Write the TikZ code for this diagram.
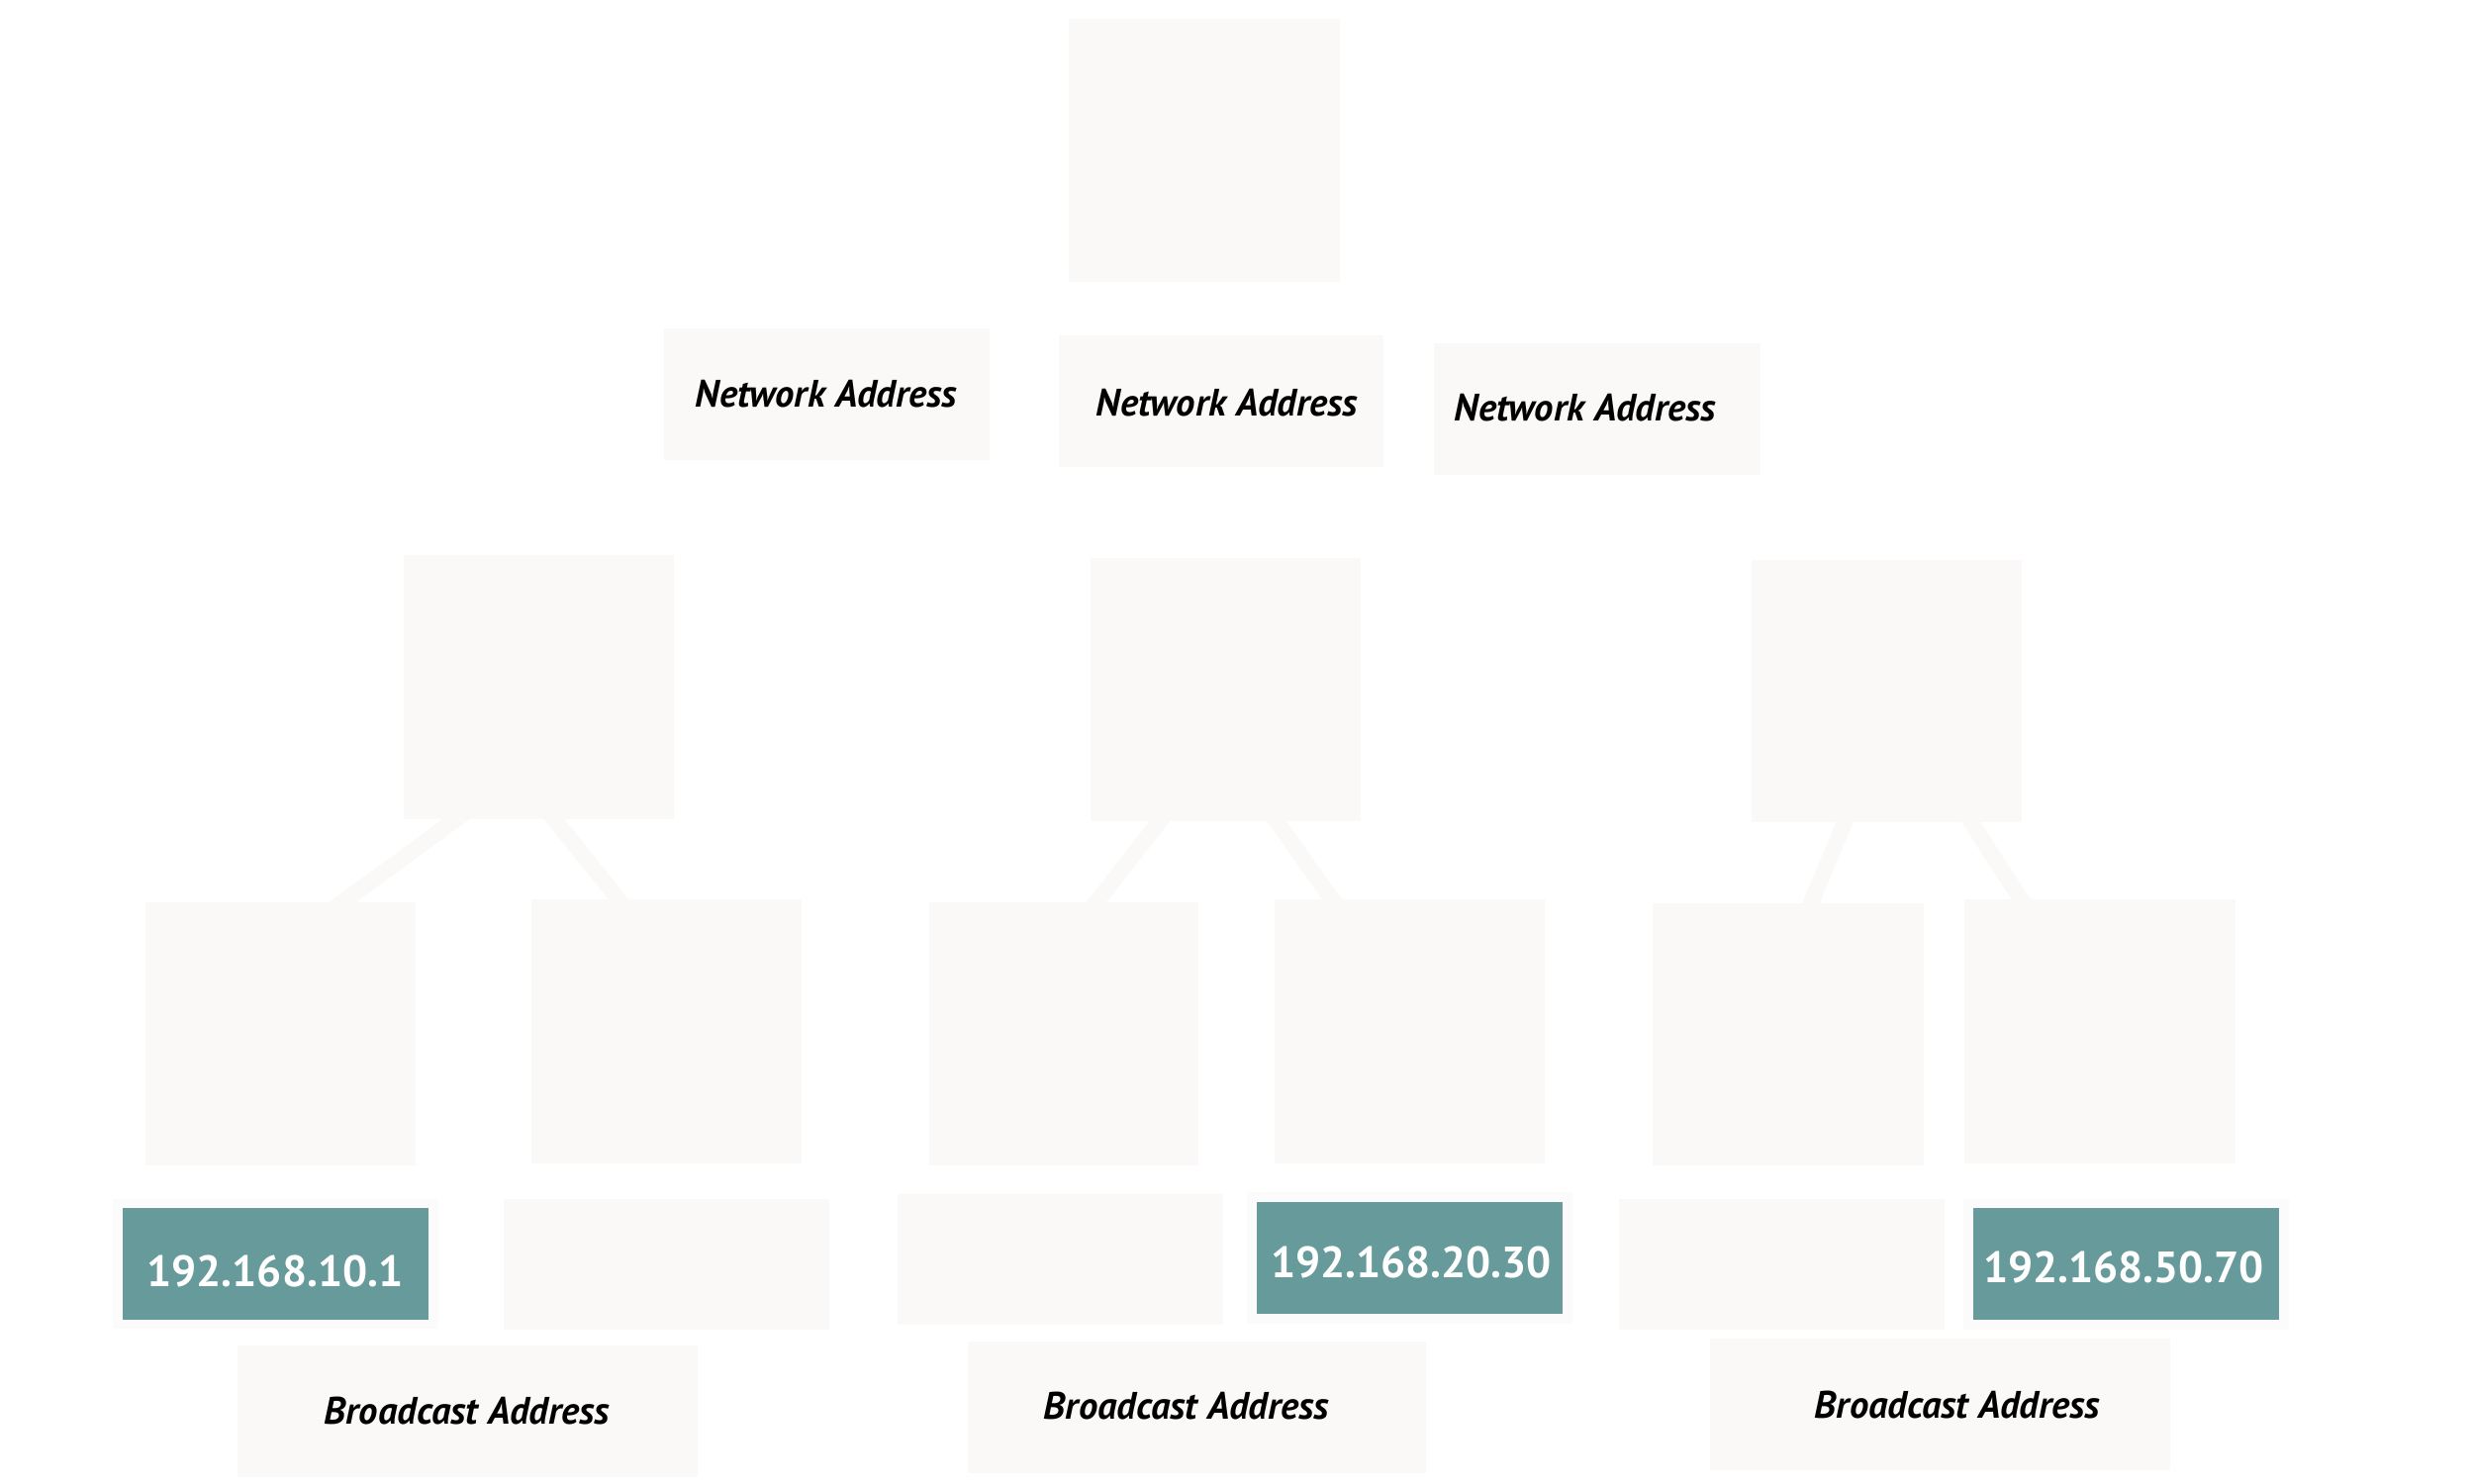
\documentclass[tikz,border=0pt]{standalone}
\usepackage{fontspec}
\setmainfont{PT Sans}
\usetikzlibrary{calc}
\definecolor{boxc}{HTML}{FAF9F7}
\definecolor{framec}{HTML}{FCFBFB}
\definecolor{tealc}{HTML}{679A9A}
\tikzset{
  box/.style={rectangle, fill=boxc, draw=none, inner sep=0pt, outer sep=0pt},
  framebox/.style={rectangle, fill=framec, draw=none, inner sep=0pt, outer sep=0pt},
  ipbox/.style={rectangle, fill=tealc, draw=none, inner sep=0pt, outer sep=0pt},
  link/.style={draw=boxc, line width=4.55pt, shorten <=-6pt, shorten >=-6pt},
  lbl/.style={anchor=base, inner sep=0pt, font=\fontsize{11}{13}\selectfont\bfseries\itshape, text=black},
  iplbl/.style={anchor=base, inner sep=0pt, font=\fontsize{12.6}{15}\selectfont\bfseries, text=white},
}
\newcommand\bx[6]{\node[#1, minimum width={(#5-#3)*0.28453pt}, minimum height={(#6-#4)*0.28453pt}] (#2) at ({(#3+#5)/2},{(#4+#6)/2}) {};}
\begin{document}
\begin{tikzpicture}[x=0.01cm, y=-0.01cm]
\useasboundingbox[fill=white] (0,0) rectangle (2500,1500);
% top
\bx{box}{T}{1080}{19}{1354}{285}
% network address boxes
\bx{box}{NA1}{671}{332}{1000}{465}
\bx{box}{NA2}{1070}{339}{1398}{472}
\bx{box}{NA3}{1449}{347}{1779}{480}
% middle
\bx{box}{M1}{408}{561}{681}{828}
\bx{box}{M2}{1102}{564}{1375}{830}
\bx{box}{M3}{1770}{566}{2043}{831}
% bottom
\bx{box}{B1}{147}{912}{420}{1178}
\bx{box}{B2}{537}{909}{810}{1176}
\bx{box}{B3}{939}{912}{1211}{1178}
\bx{box}{B4}{1288}{909}{1561}{1176}
\bx{box}{B5}{1670}{913}{1944}{1178}
\bx{box}{B6}{1985}{909}{2259}{1176}
% address row
\bx{framebox}{A1f}{114}{1212}{443}{1343}
\bx{ipbox}{A1}{124}{1221}{433}{1334}
\bx{box}{A2}{509}{1212}{838}{1344}
\bx{box}{A3}{907}{1207}{1236}{1339}
\bx{framebox}{A4f}{1260}{1205}{1589}{1338}
\bx{ipbox}{A4}{1270}{1215}{1579}{1328}
\bx{box}{A5}{1636}{1212}{1965}{1344}
\bx{framebox}{A6f}{1984}{1212}{2313}{1344}
\bx{ipbox}{A6}{1994}{1221}{2303}{1334}
% broadcast
\bx{box}{BA1}{240}{1360}{705}{1493}
\bx{box}{BA2}{978}{1356}{1441}{1489}
\bx{box}{BA3}{1728}{1353}{2193}{1486}
% connectors
\draw[link] ($(M1.south west)!0.194!(M1.south east)$) -- ($(B1.north west)!0.729!(B1.north east)$);
\draw[link] ($(M1.south west)!0.557!(M1.south east)$) -- ($(B2.north west)!0.322!(B2.north east)$);
\draw[link] ($(M2.south west)!0.256!(M2.south east)$) -- ($(B3.north west)!0.621!(B3.north east)$);
\draw[link] ($(M2.south west)!0.689!(M2.south east)$) -- ($(B4.north west)!0.212!(B4.north east)$);
\draw[link] ($(M3.south west)!0.344!(M3.south east)$) -- ($(B5.north west)!0.584!(B5.north east)$);
\draw[link] ($(M3.south west)!0.813!(M3.south east)$) -- ($(B6.north west)!0.208!(B6.north east)$);
% labels
\node[lbl] (tNA1) at (835,411) {Network Address};
\node[lbl] (tNA2) at (1240,420) {Network Address};
\node[lbl] (tNA3) at (1602,425) {Network Address};
\node[lbl] (tBA1) at (472,1439) {Broadcast Address};
\node[lbl] (tBA2) at (1199,1434) {Broadcast Address};
\node[lbl] (tBA3) at (1978,1433) {Broadcast Address};
\node[iplbl] (tA1) at (278,1300) {192.168.10.1};
\node[iplbl] (tA4) at (1426,1291) {192.168.20.30};
\node[iplbl] (tA6) at (2146,1296) {192.168.50.70};
\end{tikzpicture}
\end{document}
